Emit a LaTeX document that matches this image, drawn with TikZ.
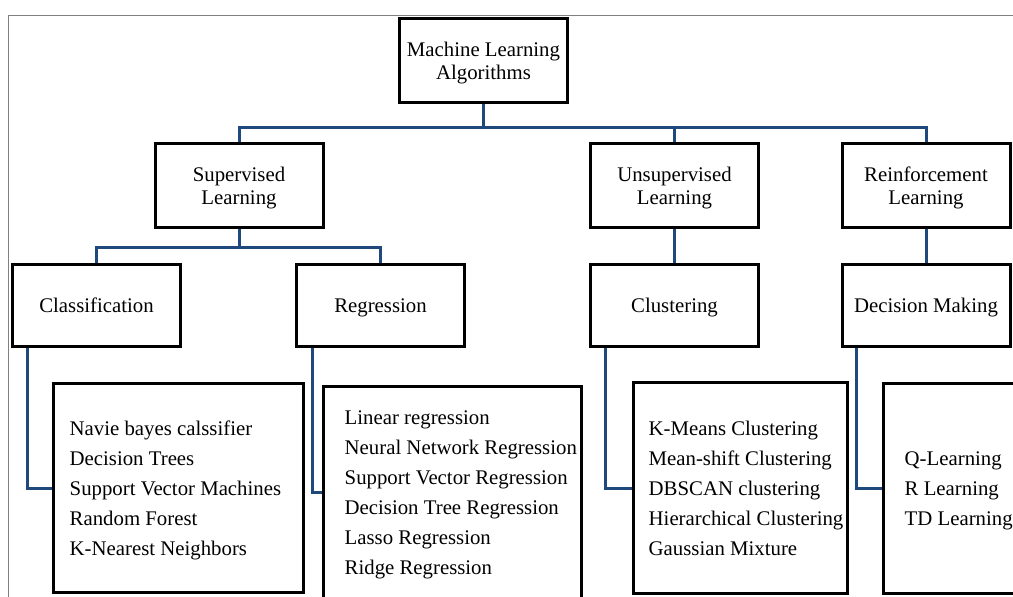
\documentclass[tikz,border=0pt]{standalone}
\usepackage{fontspec}
\setmainfont{Liberation Serif}
\definecolor{connblue}{HTML}{1F497D}
\definecolor{framegray}{HTML}{808080}
\begin{document}
\begin{tikzpicture}[x=1pt,y=-1pt,
  box/.style={draw=black,line width=3pt,fill=white,inner sep=0pt,align=center,
    font=\fontsize{20.8}{22.5}\selectfont},
  catbox/.style={box,minimum width=168pt,minimum height=84pt},
  cattext/.style={inner sep=0pt,align=center,font=\fontsize{20.8}{22.5}\selectfont},
  subbox/.style={box,minimum width=168pt,minimum height=82pt,text height=19.6pt,text depth=5.2pt},
  listbox/.style={draw=black,line width=3pt,fill=white,inner sep=0pt},
  listtext/.style={inner sep=0pt,align=left,anchor=west,
    font=\fontsize{20.8}{30}\selectfont},
  conn/.style={draw=connblue,line width=3pt},
  frame/.style={draw=framegray,line width=1pt}]
\useasboundingbox (0,0) rectangle (1013,597);
\begin{scope}
\clip (0,0) rectangle (1013,597);
% outer frame
\draw[frame] (8.5,620) -- (8.5,15.5) -- (1030,15.5);
% top-level boxes
\node[catbox] (root) at (483.5,60.5) {};
\node[catbox] (sup) at (239,185.5) {};
\node[catbox] (unsup) at (674.5,185.5) {};
\node[catbox] (rein) at (926,185.5) {};
\node[cattext] (rootT) at ([yshift=-2.5pt]root.center) {Machine Learning\\Algorithms};
\node[cattext] (supT) at ([yshift=-2.5pt]sup.center) {Supervised\\Learning};
\node[cattext] (unsupT) at ([yshift=-2.5pt]unsup.center) {Unsupervised\\Learning};
\node[cattext] (reinT) at ([yshift=-2.5pt]rein.center) {Reinforcement\\Learning};
% second-level boxes
\node[subbox] (class) at (96.5,305.5) {Classification};
\node[subbox] (regr) at (380.5,305.5) {Regression};
\node[subbox] (clust) at (674.5,305.5) {Clustering};
\node[subbox] (dec) at (926,305.5) {Decision Making};
% connectors
\draw[conn] (root.south) -- ++(0,23.5) -| (sup.north);
\draw[conn] (root.south) -- ++(0,23.5) -| (unsup.north);
\draw[conn] (root.south) -- ++(0,23.5) -| (rein.north);
\draw[conn] (sup.south) -- ++(0,18.5) -| (class.north);
\draw[conn] (sup.south) -- ++(0,18.5) -| (regr.north);
\draw[conn] (unsup.south) -- (clust.north);
\draw[conn] (rein.south) -- (dec.north);
% list boxes
\node[listbox,minimum width=250pt,minimum height=209pt] (L1) at (178.5,488) {};
\node[listbox,minimum width=258pt,minimum height=212pt] (L2) at (452.5,492.5) {};
\node[listbox,minimum width=214pt,minimum height=211pt] (L3) at (740.5,488) {};
\node[listbox,minimum width=150pt,minimum height=210pt] (L4) at (958.5,488.5) {};
% list connectors
\draw[conn] ([xshift=16.5pt]class.south west) |- (L1.west);
\draw[conn] ([xshift=17.5pt]regr.south west) |- (L2.west);
\draw[conn] ([xshift=16.5pt]clust.south west) |- (L3.west);
\draw[conn] ([xshift=15.5pt]dec.south west) |- (L4.west);
% list texts
\node[listtext] (T1) at ([xshift=17.5pt,yshift=-2.5pt]L1.west) {Navie bayes calssifier\\Decision Trees\\Support Vector Machines\\Random Forest\\K-Nearest Neighbors};
\node[listtext] (T2) at ([xshift=22.5pt,yshift=-2.5pt]L2.west) {Linear regression\\Neural Network Regression\\Support Vector Regression\\Decision Tree Regression\\Lasso Regression\\Ridge Regression};
\node[listtext] (T3) at ([xshift=16.5pt,yshift=-0.5pt]L3.west) {K-Means Clustering\\Mean-shift Clustering\\DBSCAN clustering\\Hierarchical Clustering\\Gaussian Mixture};
\node[listtext] (T4) at ([xshift=22.5pt,yshift=-2.5pt]L4.west) {Q-Learning\\R Learning\\TD Learning};
\end{scope}
\end{tikzpicture}
\end{document}
